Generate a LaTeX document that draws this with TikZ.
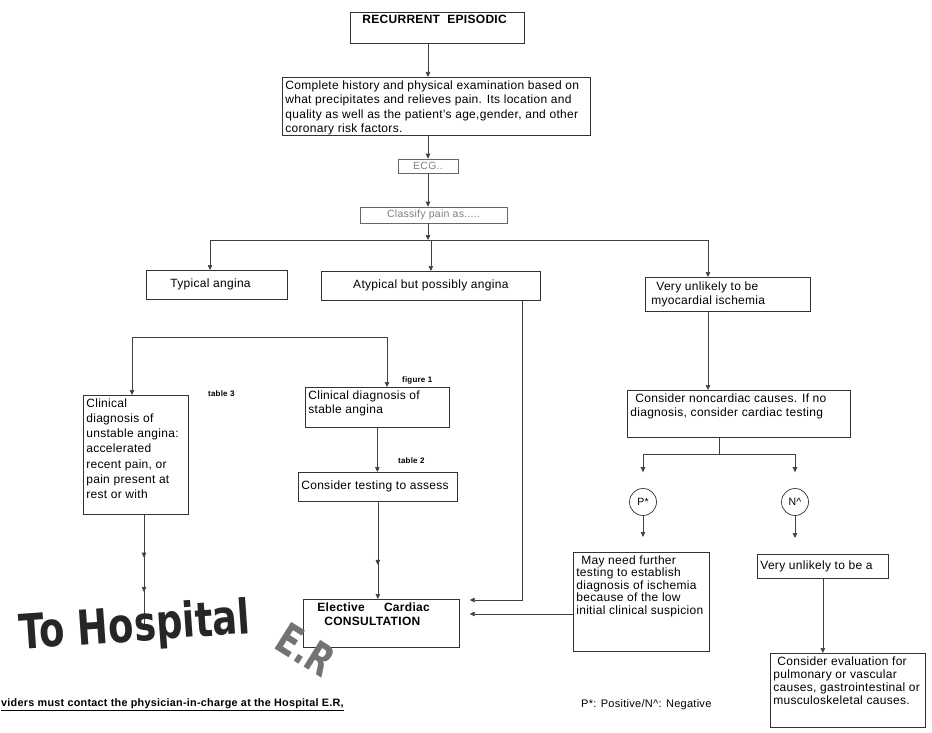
\documentclass[tikz,border=0pt]{standalone}
\usepackage{fontspec}
\setmainfont[LetterSpace=2.5]{Liberation Sans}
\newfontfamily\bigfont{DejaVu Sans}
\usetikzlibrary{arrows.meta,decorations.markings}

% boxed step: name, left, top, right, bottom (pt), vertical position of text, text
\newcommand\flowbox[8][]{%
  \node[box,#1] (#2) at (#3,#4)
    {\parbox[c][\dimexpr#6pt-#4pt-6pt\relax][#7]{\dimexpr#5pt-#3pt-6pt\relax}{\raggedright #8}};}

\tikzset{
  box/.style={draw=black!80, line width=0.7pt, inner sep=3pt, anchor=north west,
              font=\fontsize{12}{14.5}\selectfont},
  faint/.style={draw=black!60, line width=0.6pt, inner sep=0pt, anchor=center,
                text=black!50, font=\fontsize{10.5}{12}\selectfont},
  conn/.style={draw=black!75, line width=0.7pt},
  tip/.tip={Triangle[length=5pt,width=4.5pt]},
  arr/.style={conn, -tip},
  circ/.style={draw=black!80, line width=0.7pt, circle, minimum size=27pt, inner sep=0pt,
               font=\fontsize{10.5}{12}\selectfont},
  tag/.style={anchor=west, inner sep=0pt, font=\bfseries\fontsize{8}{9}\selectfont},
  midtip/.style={postaction={decorate}, decoration={markings,
      mark=at position #1 with {\arrow{tip}}}},
  twotips/.style 2 args={postaction={decorate}, decoration={markings,
      mark=at position #1 with {\arrow{tip}},
      mark=at position #2 with {\arrow{tip}}}},
}

\begin{document}
\begin{tikzpicture}[x=1pt, y=-1pt]
\fill[white] (0,0) rectangle (932,733);
\useasboundingbox (0,0) rectangle (932,733);

% ---- main column ----
\flowbox{rec}{350}{12}{524}{43}{t}{\hspace*{9pt}\bfseries RECURRENT\ \ EPISODIC}
\flowbox{hist}{282}{77}{590}{135}{t}{\mbox{Complete history and physical examination based on}\\
  \mbox{what precipitates and relieves pain. Its location and}\\
  \mbox{quality as well as the patient's age,gender, and other}\\
  coronary risk factors.}
\node[faint, minimum width=60pt, minimum height=14pt] (ecg) at (428,166) {ECG..};
\node[faint, minimum width=147pt, minimum height=16pt] (cls) at (433.5,215) {Classify pain as.....};

\coordinate (spine) at (428,240);
\coordinate (jL) at (210,240);
\coordinate (jR) at (708,240);

\draw[arr] (rec.south -| ecg.north) -- (hist.north -| ecg.north);
\draw[arr] (hist.south -| ecg.north) -- (ecg.north);
\draw[arr] (ecg.south) -- (cls.north -| ecg.south);
\draw[arr] (cls.south -| ecg.south) -- (spine);
\draw[conn] (jL) -- (jR);

% ---- three classes ----
\flowbox{typ}{146}{270}{287}{299}{c}{\hspace*{21pt}Typical angina}
\flowbox{atyp}{321}{271}{540}{300}{c}{\centering Atypical but possibly angina}
\flowbox{vu}{645}{277}{810}{311}{c}{\hspace*{8pt}Very unlikely to be\\ \hspace*{3pt}myocardial ischemia}

\draw[arr] (jL) -- (jL |- typ.north);
\draw[arr] (atyp.north |- spine) -- (atyp.north);
\draw[arr] (jR) -- (jR |- vu.north);

% ---- angina branch ----
\coordinate (bL) at (132,337);
\coordinate (bR) at (387,337);
\draw[conn] (bL) -- (bR);

\flowbox{unst}{83}{395}{188}{514}{t}{\fontsize{12}{15.3}\selectfont Clinical\\ diagnosis of\\
  unstable angina:\\ accelerated\\ recent pain, or\\ pain present at\\ rest or with}
\flowbox{stab}{305}{387}{449}{427}{t}{Clinical diagnosis of\\ stable angina}
\flowbox{test}{298}{472}{457}{501}{c}{Consider testing to assess}
\flowbox{elec}{303}{599}{459}{647}{t}{\bfseries\hspace*{11pt}Elective\hspace{1.6em}Cardiac\\
  \hspace*{18pt}CONSULTATION}

\node[tag] (t3) at (208,394) {table 3};
\node[tag] (f1) at (402,380) {figure 1};
\node[tag] (t2) at (398,461) {table 2};

\draw[arr] (bL) -- (bL |- unst.north);
\draw[arr] (bR) -- (bR |- stab.north);
\draw[arr] (stab.south) -- (stab.south |- test.north);
\draw[arr, midtip=0.65] (test.south) -- (test.south |- elec.north);

\coordinate (hosp) at (144,625);
\draw[conn, twotips={0.39}{0.70}] (unst.south -| hosp) -- (hosp);

% ---- lines into the consultation box ----
\coordinate (aturn) at (522,600);
\coordinate (mline) at (0,614);
\draw[arr, shorten >=10pt] (atyp.south -| aturn) -- (aturn) -- (elec.east |- aturn);

% ---- non-cardiac branch ----
\flowbox{nonc}{627}{390}{850}{437}{t}{\mbox{\hspace*{5pt}Consider noncardiac causes. If no}\\
  \mbox{diagnosis, consider cardiac testing}}
\draw[arr] (vu.south -| jR) -- (nonc.north -| jR);

\node[circ] (pos) at (643,502) {P*};
\node[circ] (neg) at (795,502) {N\textasciicircum};
\coordinate (fork) at (719,454);
\draw[conn] (nonc.south -| fork) -- (fork);
\draw[conn] (pos |- fork) -- (neg |- fork);
\draw[arr, shorten >=16pt] (pos |- fork) -- (pos.north);
\draw[arr, shorten >=16pt] (neg |- fork) -- (neg.north);

\flowbox{may}{573}{552}{709}{651}{t}{\fontsize{12}{12.5}\selectfont\hspace*{5pt}May need further\\
  testing to establish\\ diagnosis of ischemia\\ because of the low\\ \mbox{initial clinical suspicion}}
\flowbox{vua}{757}{554}{888}{578}{c}{Very unlikely to be a}
\flowbox{eval}{770}{653}{925}{727}{t}{\fontsize{12}{13}\selectfont\hspace*{4pt}Consider evaluation for\\
  pulmonary or vascular\\ \mbox{causes, gastrointestinal or}\\ musculoskeletal causes.}

\draw[arr, shorten >=15pt] (pos.south) -- (pos.south |- may.north);
\draw[arr, shorten >=16pt] (neg.south) -- (neg.south |- vua.north);
\draw[arr] (vua.south) -- (vua.south |- eval.north);
\draw[arr, shorten >=10pt] (may.west |- mline) -- (elec.east |- mline);

% ---- hospital banner and notes ----
\node[rotate=4, text=black!85, inner sep=0pt] (hospital) at (135,628)
  {\bigfont\bfseries\fontsize{37}{37}\selectfont\scalebox{1}[1.3]{To Hospital}};
\node[rotate=-32, text=black!55, inner sep=0pt] (er) at (306,650)
  {\bigfont\bfseries\fontsize{32}{32}\selectfont\scalebox{1}[1.35]{E.R}};

\node[anchor=west, inner sep=0pt, font=\bfseries\fontsize{10.8}{13}\selectfont] (note) at (1,705)
  {\underline{viders must contact the physician-in-charge at the Hospital E.R,}};
\node[anchor=west, inner sep=0pt, font=\fontsize{11}{13}\selectfont] (legend) at (581,705)
  {P*: Positive/N\textasciicircum: Negative};
\end{tikzpicture}
\end{document}
